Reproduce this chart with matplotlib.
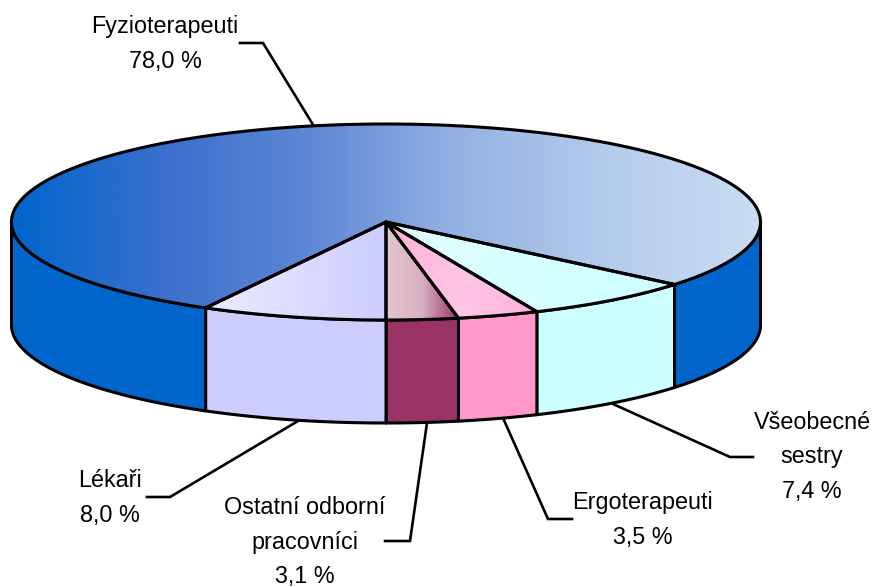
# Pseudo-3D pie of staff shares, drawn in pixel coordinates of the 873x587 canvas
import numpy as np
import matplotlib
matplotlib.use('Agg')
import matplotlib.pyplot as plt
from matplotlib.colors import LinearSegmentedColormap
from matplotlib.patches import Polygon

# ── Data ────────────────────────────────────────────────────────────────────
names = ['Všeobecné\nsestry', 'Ergoterapeuti', 'Ostatní odborní\npracovníci', 'Lékaři', 'Fyzioterapeuti']
values = [7.4, 3.5, 3.1, 8.0, 78.0]
value_labels = ['7,4 %', '3,5 %', '3,1 %', '8,0 %', '78,0 %']

# ── Style ───────────────────────────────────────────────────────────────────
side_colors = ['#CCFFFF', '#FF99CC', '#993366', '#CCCCFF', '#0066CC']
top_stops = [
    ['#E2FFFF', '#CCFFFF'],
    ['#FFB0D8', '#FFC6E6', '#FFB0DC'],
    ['#E4C6D2', '#D8AFC0', '#993366'],
    ['#ECECFF', '#CCCCFF'],
    ['#0066CC', '#3A6FCC', '#5F88D5', '#95B2E2', '#B5CCEC', '#C8DDF3'],
]
label_pos = [(812, 457), (643, 520), (305, 542), (110, 498), (165, 44)]
leaders = [
    [(753, 457), (730, 457), (613, 404)],
    [(572, 519), (548, 519), (503, 418)],
    [(385, 541), (410, 541), (427, 423)],
    [(147, 497), (170, 497), (298, 421)],
    [(240, 43), (263, 43), (315, 128)],
]

CX, CY = 386, 222
RX, RY = 374.5, 98
DEPTH = 103
START_ANGLE = 39.6   # clockwise from 3 o'clock
LW = 2.2

fig = plt.figure(figsize=(8.73, 5.87), dpi=100)
ax = fig.add_axes([0, 0, 1, 1])
ax.set_xlim(0, 873)
ax.set_ylim(587, 0)
ax.axis('off')


def rim(t0, t1, dy=0):
    t = np.radians(np.linspace(t0, t1, max(int(abs(t1 - t0) * 2), 2)))
    return np.column_stack([CX + RX * np.cos(t), CY + dy + RY * np.sin(t)])


edges = START_ANGLE + np.concatenate([[0], np.cumsum(values)]) * 360 / sum(values)

# ── Side wall ───────────────────────────────────────────────────────────────
for i, color in enumerate(side_colors):
    for lo, hi in [(0, 180), (360, 540)]:
        t0, t1 = max(edges[i], lo), min(edges[i + 1], hi)
        if t1 <= t0:
            continue
        pts = np.vstack([rim(t0, t1), rim(t1, t0, DEPTH)])
        ax.add_patch(Polygon(pts, closed=True, fc=color, ec='black', lw=LW, joinstyle='round', zorder=2))

# ── Top face, horizontal gradient clipped to each slice ─────────────────────
for i, stops in enumerate(top_stops):
    pts = np.vstack([[(CX, CY)], rim(edges[i], edges[i + 1])])
    cmap = LinearSegmentedColormap.from_list(f'top{i}', stops)
    x0, x1 = pts[:, 0].min(), pts[:, 0].max()
    y0, y1 = pts[:, 1].min(), pts[:, 1].max()
    outline = Polygon(pts, closed=True, fc='none', ec='black', lw=LW, joinstyle='round', zorder=4)
    ax.add_patch(outline)
    im = ax.imshow(np.linspace(0, 1, 256)[None, :], cmap=cmap, extent=(x0, x1, y1, y0),
                   aspect='auto', interpolation='bilinear', zorder=3)
    im.set_clip_path(outline)
ax.set_xlim(0, 873)
ax.set_ylim(587, 0)

# ── Labels and leaders ──────────────────────────────────────────────────────
for name, val, pos, leader in zip(names, value_labels, label_pos, leaders):
    xs, ys = zip(*leader)
    ax.plot(xs, ys, color='black', lw=1.9, solid_joinstyle='miter', zorder=1)
    ax.text(pos[0], pos[1], f'{name}\n{val}', ha='center', va='center', fontsize=16.8,
            family='Liberation Sans', color='black', linespacing=1.63, zorder=5)

fig.savefig('out.png', dpi=100)
